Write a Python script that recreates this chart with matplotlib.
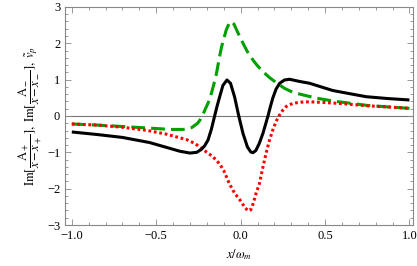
import matplotlib
matplotlib.use("Agg")
import matplotlib.pyplot as plt
from matplotlib.ticker import MultipleLocator

# Im[A+/(x-x+)]  (red dotted)
red_x = [-1.0, -0.85, -0.7, -0.55, -0.44, -0.385, -0.32, -0.27, -0.243, -0.20, -0.164, -0.124,
         -0.10, -0.065, -0.036, 0.004, 0.025, 0.045, 0.06, 0.075, 0.09, 0.112, 0.13, 0.152,
         0.172, 0.191, 0.21, 0.231, 0.25, 0.27, 0.31, 0.36, 0.408, 0.5, 0.6, 0.75, 0.87, 1.0]
red_y = [-0.22, -0.25, -0.31, -0.40, -0.50, -0.57, -0.65, -0.76, -0.85, -1.0, -1.12, -1.32,
         -1.5, -1.88, -2.12, -2.36, -2.52, -2.61, -2.58, -2.40, -2.15, -1.85, -1.45, -1.0,
         -0.65, -0.38, -0.15, 0.03, 0.16, 0.26, 0.35, 0.38, 0.39, 0.37, 0.34, 0.28, 0.25, 0.21]

# Im[A-/(x-x-)]  (green dashed)
green_x = [-1.0, -0.85, -0.7, -0.55, -0.42, -0.34, -0.29, -0.255, -0.233, -0.21, -0.183, -0.16,
           -0.144, -0.124, -0.114, -0.10, -0.085, -0.07, -0.055, -0.04, -0.025, -0.005, 0.014,
           0.04, 0.073, 0.10, 0.132, 0.17, 0.21, 0.26, 0.31, 0.36, 0.45, 0.55, 0.65, 0.75, 0.87, 1.0]
green_y = [-0.22, -0.25, -0.29, -0.33, -0.37, -0.37, -0.32, -0.20, -0.06, 0.18, 0.46, 0.85,
           1.15, 1.65, 1.88, 2.12, 2.37, 2.53, 2.60, 2.53, 2.38, 2.18, 2.00,
           1.77, 1.54, 1.38, 1.22, 1.06, 0.92, 0.76, 0.65, 0.59, 0.49, 0.41, 0.35, 0.29, 0.25, 0.21]

# v_p tilde  (black solid)
black_x = [-1.0, -0.85, -0.7, -0.54, -0.42, -0.36, -0.30, -0.26, -0.233, -0.213, -0.193, -0.173,
           -0.154, -0.139, -0.124, -0.105, -0.081, -0.06, -0.036, -0.012, 0.014, 0.04, 0.06,
           0.073, 0.09, 0.11, 0.132, 0.147, 0.162, 0.177, 0.191, 0.21, 0.231, 0.26, 0.29,
           0.349, 0.408, 0.546, 0.65, 0.744, 0.87, 1.0]
black_y = [-0.44, -0.51, -0.59, -0.73, -0.89, -0.97, -1.02, -1.0, -0.92, -0.82, -0.66, -0.36,
           0.0, 0.28, 0.53, 0.84, 0.99, 0.90, 0.53, 0.02, -0.48, -0.85, -0.99,
           -1.01, -0.95, -0.76, -0.48, -0.24, 0.0, 0.27, 0.50, 0.74, 0.90, 0.99, 1.01,
           0.95, 0.90, 0.70, 0.61, 0.53, 0.48, 0.44]

xticks = [-1.0, -0.5, 0.0, 0.5, 1.0]
yticks = [-3, -2, -1, 0, 1, 2, 3]

plt.rcParams['font.family'] = ['Liberation Serif', 'DejaVu Serif']
plt.rcParams['mathtext.fontset'] = 'stix'

fig = plt.figure(figsize=(4.17, 2.66), dpi=100)
ax = fig.add_axes([0.156, 0.154, 0.834, 0.820])

ax.axhline(0, color='#777777', lw=0.8, zorder=1)
ax.plot(black_x, black_y, color='black', lw=2.2, solid_capstyle='butt', zorder=3)
ax.plot(green_x, green_y, color='#00a000', lw=2.2, dashes=(4.5, 2.0), zorder=2)
ax.plot(red_x, red_y, color='#ff0000', lw=2.2, dashes=(0.9, 0.9), zorder=2)

ax.set_xlim(-1.04, 1.02)
ax.set_ylim(-3, 3)
ax.set_xticks(xticks)
ax.set_xticklabels([f"{t:.1f}".replace('-', '\u2212') for t in xticks])
ax.set_yticks(yticks)
ax.set_yticklabels([str(t).replace('-', '\u2212') for t in yticks])
ax.xaxis.set_minor_locator(MultipleLocator(0.1))
ax.yaxis.set_minor_locator(MultipleLocator(0.2))
ax.tick_params(which='both', direction='in', top=True, right=True, color='#888888',
               labelsize=9, width=0.6)
ax.tick_params(which='major', length=4)
ax.tick_params(which='minor', length=2)
for s in ax.spines.values():
    s.set_color('#888888')
    s.set_linewidth(0.8)

ax.set_xlabel(r'$x/\omega_m$', fontsize=9, labelpad=4)
ax.set_ylabel(r'$\mathrm{Im}[\dfrac{\mathrm{A}_+}{x-x_+}],\ \mathrm{Im}[\dfrac{\mathrm{A}_-}{x-x_-}],\ \tilde{v}_p$',
              fontsize=9, labelpad=2)

fig.savefig('out.png', dpi=100)
